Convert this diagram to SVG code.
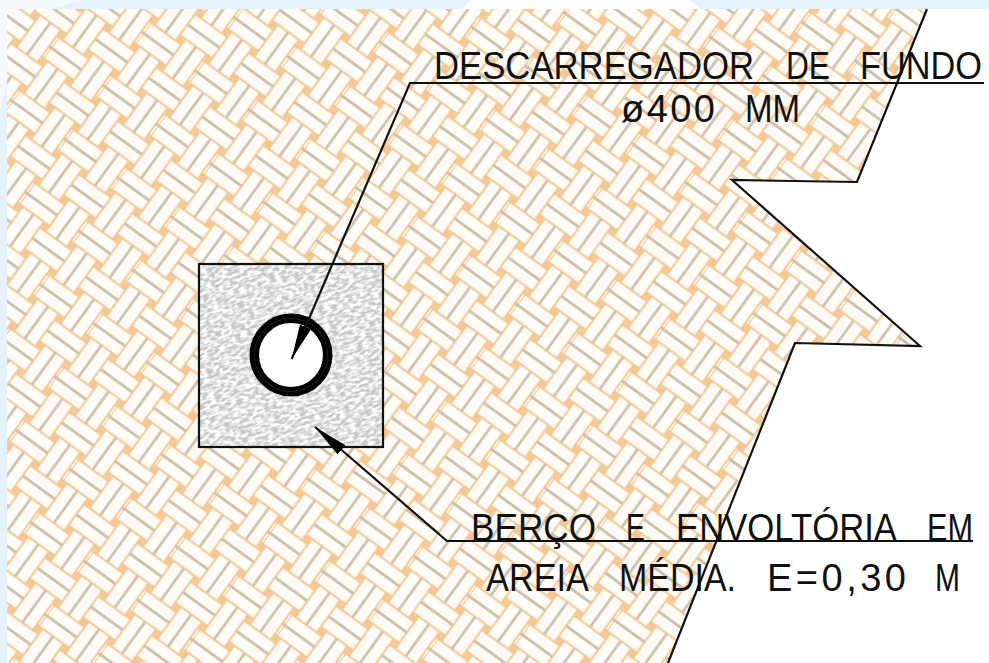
<svg xmlns="http://www.w3.org/2000/svg" width="989" height="663" viewBox="0 0 989 663">
<defs>
<pattern id="weave" width="66" height="66" patternUnits="userSpaceOnUse" patternTransform="translate(61.7 35) rotate(36)">
<rect width="66" height="66" fill="#f5c995"/>
<path d="M-3.5 3.5h40v26h-40zM62.5 3.5h3.5v26h-3.5zM29.5 36.5h40v26h-40zM-36.5 36.5h40v26h-40zM36.5 -3.5h26v40h-26zM3.5 29.5h26v40h-26zM3.5 -36.5h26v40h-26zM36.5 62.5h26v40h-26z" fill="#fffcf7" stroke="#f3c591" stroke-width="2"/>
<path d="M-3.5 16.5H36.5M62.5 16.5H70M29.5 49.5H69.5M-36.5 49.5H3.5M49.5 -3.5V36.5M16.5 29.5V69.5M16.5 -36.5V3.5M49.5 62.5V70" stroke="#cfc3ae" stroke-width="2.8" fill="none"/>
</pattern>
<filter id="soft" x="0" y="0" width="100%" height="100%"><feGaussianBlur stdDeviation="0.5"/></filter>
<filter id="sand" x="0" y="0" width="100%" height="100%">
<feTurbulence type="fractalNoise" baseFrequency="0.16 0.38" numOctaves="2" seed="4"/>
<feColorMatrix type="matrix" values="0 0 0 0 1  0 0 0 0 1  0 0 0 0 1  4 0 0 0 -1.5"/>
<feGaussianBlur stdDeviation="0.4"/>
</filter>
<clipPath id="boxclip"><rect x="199" y="264" width="184" height="183"/></clipPath>
<marker id="head" markerUnits="userSpaceOnUse" markerWidth="36" markerHeight="14" refX="35" refY="6" orient="auto"><path d="M0 0L35 6L0 12Z" fill="#000"/></marker>
</defs>
<style>
.ln{fill:none;stroke:#111;stroke-width:2.2}
.t{font-family:"Liberation Sans",Arial,sans-serif;font-size:38px;fill:#111}
</style>
<g id="background">
<rect width="989" height="663" fill="#fff"/>
<path d="M0 0H989V9H7V663H0Z" fill="#e4f2fd"/>
<path d="M0 0H85L50 9H7V85L0 110Z" fill="#f3f9fe"/>
<path d="M470 0H690L700 9H462Z" fill="#fff"/>
</g>
<g id="terrain">
<path d="M7 9H927L857 182L732 180L920 346L795 343L668 663H7Z" fill="url(#weave)" filter="url(#soft)"/>
<path d="M927 9L857 182L732 180L920 346L795 343L668 663" class="ln"/>
</g>
<g id="envelope">
<rect x="199" y="264" width="184" height="183" fill="#c6c6c6"/>
<g clip-path="url(#boxclip)"><rect x="120" y="190" width="340" height="330" fill="#000" filter="url(#sand)" transform="rotate(-18 291 355)"/></g>
<rect x="199" y="264" width="184" height="183" class="ln"/>
</g>
<g id="pipe">
<circle cx="291" cy="355" r="36.7" fill="#fff" stroke="#000" stroke-width="9.5"/>
<circle cx="291" cy="355" r="36.7" fill="none" stroke="#333" stroke-width="0.6"/>
</g>
<g id="connectors">
<path d="M984 83H410L291.7 359" class="ln" marker-end="url(#head)"/>
<path d="M973 541H447L315 427" class="ln" marker-end="url(#head)"/>
</g>
<g id="labels">
<text class="t" x="434" y="79" textLength="320" lengthAdjust="spacingAndGlyphs">DESCARREGADOR</text>
<text class="t" x="786" y="79" textLength="44" lengthAdjust="spacingAndGlyphs">DE</text>
<text class="t" x="860" y="79" textLength="122" lengthAdjust="spacingAndGlyphs">FUNDO</text>
<text class="t" x="621" y="122" textLength="94">ø400</text>
<text class="t" x="745" y="122" textLength="55" lengthAdjust="spacingAndGlyphs">MM</text>
<text class="t" x="471" y="541" textLength="125" lengthAdjust="spacingAndGlyphs">BERÇO</text>
<text class="t" x="626" y="541" textLength="19" lengthAdjust="spacingAndGlyphs">E</text>
<text class="t" x="676" y="541" textLength="221" lengthAdjust="spacingAndGlyphs">ENVOLTÓRIA</text>
<text class="t" x="927" y="541" textLength="46" lengthAdjust="spacingAndGlyphs">EM</text>
<text class="t" x="486" y="591" textLength="103" lengthAdjust="spacingAndGlyphs">AREIA</text>
<text class="t" x="619" y="591" textLength="117" lengthAdjust="spacingAndGlyphs">MÉDIA.</text>
<text class="t" x="767" y="591" textLength="139">E=0,30</text>
<text class="t" x="935" y="591" textLength="25" lengthAdjust="spacingAndGlyphs">M</text>
</g>
</svg>
